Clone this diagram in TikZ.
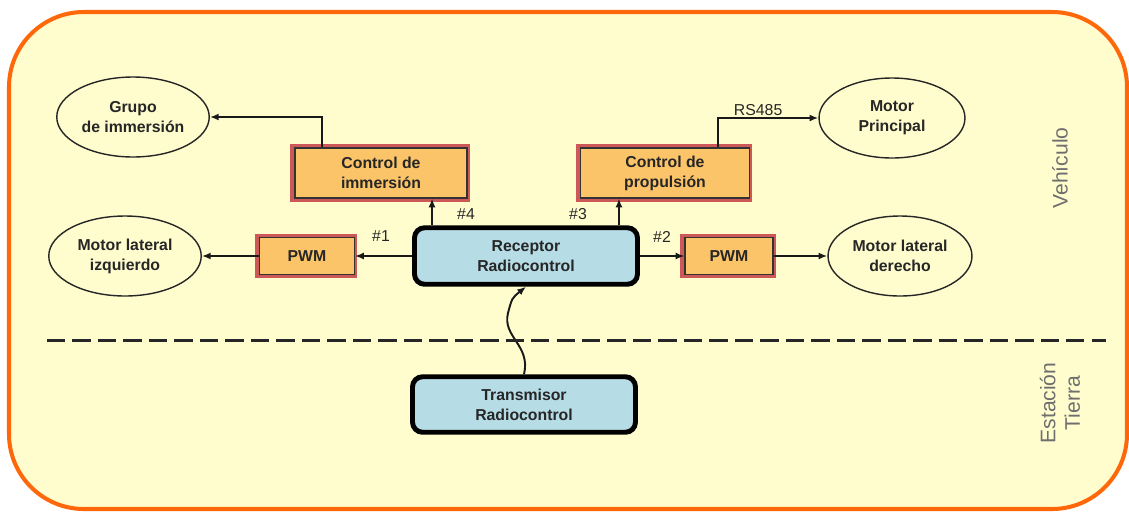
\documentclass[tikz,border=0pt]{standalone}
\usepackage{fontspec}
\setmainfont{Liberation Sans}
\usetikzlibrary{arrows.meta,positioning,shapes.geometric}
\definecolor{PanelFill}{RGB}{255,253,206}
\definecolor{PanelEdge}{RGB}{255,104,10}
\definecolor{BoxOrange}{RGB}{252,196,104}
\definecolor{BoxRed}{RGB}{204,88,88}
\definecolor{RadioBlue}{RGB}{182,220,230}
\definecolor{LabelGray}{RGB}{110,110,110}

\begin{document}
\begin{tikzpicture}[x=0.02cm, y=-0.02cm,
    ctrlbox/.style={draw=black!80, line width=0.6pt, fill=BoxOrange, minimum width=3.44cm, minimum height=1cm,
      preaction={draw=BoxRed, line width=4.5pt, transform canvas={xshift=-0.6pt}},
      align=center, font=\fontsize{9}{11.3}\selectfont\bfseries, text=black!85},
    pwmbox/.style={ctrlbox, minimum width=1.86cm, minimum height=0.73cm},
    radiobox/.style={draw=black, line width=2.8pt, fill=RadioBlue, rounded corners=0.2cm, minimum width=4.46cm,
      minimum height=1.13cm, align=center, font=\fontsize{9}{11.3}\selectfont\bfseries, text=black!85},
    motor/.style={ellipse, draw=black!85, line width=0.8pt, inner sep=0pt, minimum width=3.05cm, minimum height=1.6cm,
      align=center, font=\fontsize{9}{11.3}\selectfont\bfseries, text=black!85},
    tag/.style={font=\fontsize{9}{11}\selectfont, text=black!85, inner sep=1pt},
    zone/.style={font=\fontsize{12}{14}\selectfont, text=LabelGray, rotate=90, align=center},
    larrow/.style={-{Latex[length=5pt,width=4pt]}, line width=1.1pt, draw=black!90}
  ]
    \useasboundingbox (0,0) rectangle (1129,511);
    \draw[draw=PanelEdge, line width=2.3pt, fill=PanelFill, rounded corners=1.5cm] (9,12) rectangle (1127,509);

    % bloques
    \node[motor] (grupo) at (133,117) {Grupo\\de immersión};
    \node[motor] (mizq) at (125,256) {Motor lateral\\izquierdo};
    \node[motor, minimum width=2.92cm] (mprin) at (892,118) {Motor\\Principal};
    \node[motor, minimum width=2.88cm] (mder) at (900,256) {Motor lateral\\derecho};
    \node[ctrlbox] (cimm) at (381,173) {Control de\\immersión};
    \node[ctrlbox, minimum width=3.38cm] (cprop) at (665,173) {Control de\\propulsión};
    \node[pwmbox, minimum width=1.9cm] (pwmizq) at (307,256) {PWM};
    \node[pwmbox, minimum width=1.76cm] (pwmder) at (729,256) {PWM};
    \node[radiobox] (recep) at (526,256) {Receptor\\Radiocontrol};
    \node[radiobox, minimum height=1.11cm] (trans) at (524,404.5) {Transmisor\\Radiocontrol};

    % conexiones
    \draw[larrow] ([xshift=-1.18cm]cimm.north) |- (grupo.east);
    \draw[larrow] ([xshift=1.06cm]cprop.north) |- node[tag, above, pos=0.7] {RS485} (mprin.west);
    \draw[larrow] ([xshift=-1.88cm]recep.north) -- ([xshift=-1.88cm]recep.north |- cimm.south);
    \draw[larrow] ([xshift=1.86cm]recep.north) -- ([xshift=1.86cm]recep.north |- cprop.south);
    \draw[larrow] (recep.west) -- (pwmizq.east);
    \draw[larrow] (pwmizq.west) -- (mizq.east);
    \draw[larrow] (recep.east) -- (pwmder.west);
    \draw[larrow] (pwmder.east) -- (mder.west);
    \draw[larrow] (trans.north) .. controls (531,345) and (502,337) .. (508,313)
      .. controls (512,298) .. (recep.south);

    % etiquetas de canal
    \node[tag] (c1) at (381,236) {\#1};
    \node[tag] (c2) at (662,237) {\#2};
    \node[tag] (c3) at (578,214) {\#3};
    \node[tag] (c4) at (466,214) {\#4};

    % separacion vehiculo / estacion
    \coordinate (sepL) at (47,340);
    \coordinate (sepR) at (1106,340);
    \draw[line width=1.7pt, black!85, dash pattern=on 10.5pt off 4pt] (sepL) -- (sepR);
    \node[zone] (veh) at (1060,168) {Vehículo};
    \node[zone] (est) at (1060,403) {Estación\\Tierra};
\end{tikzpicture}
\end{document}
